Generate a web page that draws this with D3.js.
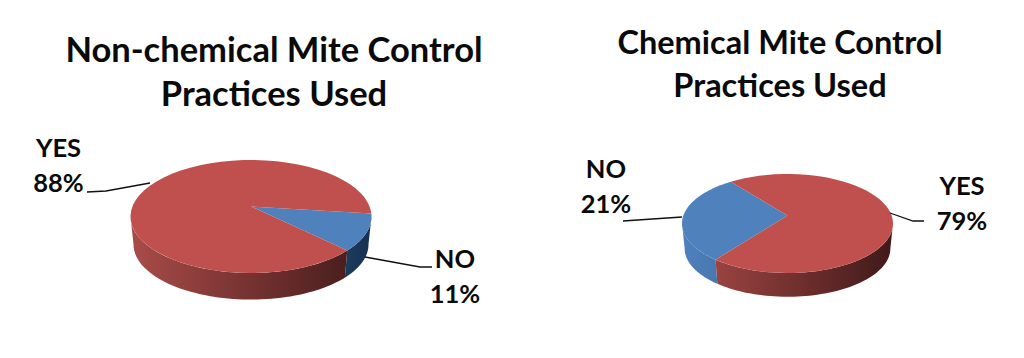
<!DOCTYPE html>
<html>
<head>
<meta charset="utf-8">
<script src="https://cdn.jsdelivr.net/npm/d3@7"></script>
<style>
  html, body { margin: 0; padding: 0; background: #fff; }
  svg { display: block; }
  text { font-family: Lato, "Open Sans", sans-serif; font-weight: 700; fill: #0a0a0a; }
</style>
</head>
<body>
<div id="chart"></div>
<script>
// Data
const categories = ["NO", "YES"];
const nonChemicalValues = [11, 88];
const nonChemicalLabels = ["11%", "88%"];
// the second picture prints 21/79 but its blue slice is drawn bigger than that,
// so the slice sizes are read off the drawing and the labels off the text
const chemicalValues = [29, 71];
const chemicalLabels = ["21%", "79%"];
const nonChemicalTitle = ["Non-chemical Mite Control", "Practices Used"];
const chemicalTitle = ["Chemical Mite Control", "Practices Used"];

const width = 1024, height = 358;
const svg = d3.select("#chart").append("svg")
  .attr("width", width)
  .attr("height", height);
const defs = svg.append("defs");

const topColor = { NO: "#4f81bd", YES: "#c0504d" };
const sideStops = {
  NO: ["#4f81bd", "#3a6597", "#15304f"],
  YES: ["#a94c49", "#753230", "#40191a"]
};

function drawPie(cfg) {
  const g = svg.append("g");

  // x and y map the unit circle onto the tilted ellipse
  const x = d3.scaleLinear().domain([-1, 1]).range([cfg.cx - cfg.rx, cfg.cx + cfg.rx]);
  const y = d3.scaleLinear().domain([-1, 1]).range([cfg.cy - cfg.ry, cfg.cy + cfg.ry]);
  const rimX = a => x(Math.sin(a));
  const rimY = a => y(-Math.cos(a));
  const lowX = a => cfg.cx + (rimX(a) - cfg.cx) * cfg.shrink;
  const lowY = a => cfg.cy + cfg.depth + (rimY(a) - cfg.cy) * cfg.shrink;

  const rows = cfg.values.map((v, i) => ({ name: categories[i], value: v }));
  const slices = d3.pie().sort(null).value(d => d.value)
    .startAngle(cfg.start).endAngle(cfg.start + 2 * Math.PI)(rows);

  const line = d3.line();
  const steps = (a0, a1) => d3.range(0, 61).map(k => a0 + (a1 - a0) * k / 60);

  // side wall, only the part of each slice facing the viewer
  slices.forEach((s, i) => {
    const id = cfg.id + "-side-" + i;
    const grad = defs.append("linearGradient").attr("id", id)
      .attr("gradientUnits", "userSpaceOnUse")
      .attr("x1", cfg.cx - cfg.rx).attr("x2", cfg.cx + cfg.rx)
      .attr("y1", 0).attr("y2", 0);
    sideStops[s.data.name].forEach((c, j) => {
      grad.append("stop").attr("offset", j / 2).attr("stop-color", c);
    });

    // front of the pie runs from 90 to 270 degrees, also checked one turn on
    [0, 2 * Math.PI].forEach(turn => {
      const a0 = Math.max(s.startAngle, Math.PI / 2 + turn);
      const a1 = Math.min(s.endAngle, 3 * Math.PI / 2 + turn);
      if (a1 <= a0) return;
      const upper = steps(a0, a1).map(a => [rimX(a), rimY(a)]);
      const lower = steps(a1, a0).map(a => [lowX(a), lowY(a)]);
      g.append("path")
        .attr("d", line(upper.concat(lower)) + "Z")
        .attr("fill", "url(#" + id + ")");
    });
  });

  // top face, the apex sits a little above the ellipse centre
  slices.forEach(s => {
    const pts = [[cfg.cx, cfg.cy - cfg.apexLift]]
      .concat(steps(s.startAngle, s.endAngle).map(a => [rimX(a), rimY(a)]));
    g.append("path")
      .attr("d", line(pts) + "Z")
      .attr("fill", topColor[s.data.name]);
  });

  // titles
  cfg.title.forEach((t, i) => {
    svg.append("text")
      .attr("x", cfg.titleX)
      .attr("y", cfg.titleY + i * cfg.titleGap)
      .attr("text-anchor", "middle")
      .style("font-size", cfg.titleSize + "px")
      .text(t);
  });

  // leader lines and labels
  cfg.callouts.forEach(c => {
    const i = categories.indexOf(c.name);
    g.append("path")
      .attr("d", line(c.leader))
      .attr("fill", "none")
      .attr("stroke", "#111")
      .attr("stroke-width", 1.3);
    svg.append("text").attr("x", c.x).attr("y", c.y)
      .attr("text-anchor", "middle")
      .style("font-size", "25.5px")
      .text(c.name);
    svg.append("text").attr("x", c.x).attr("y", c.y + 35)
      .attr("text-anchor", "middle")
      .style("font-size", "25.5px")
      .text(cfg.labels[i]);
  });
}

drawPie({
  id: "left",
  values: nonChemicalValues, labels: nonChemicalLabels, title: nonChemicalTitle,
  cx: 251, cy: 216.5, rx: 120.5, ry: 56.5, depth: 28, shrink: 0.975, apexLift: 10,
  start: 87 * Math.PI / 180,
  titleX: 274, titleY: 62, titleGap: 44, titleSize: 34.5,
  callouts: [
    { name: "YES", x: 58.5, y: 157, leader: [[150, 183], [106, 191], [87, 192]] },
    { name: "NO", x: 455, y: 268, leader: [[365, 257], [420, 267], [432, 267]] }
  ]
});

drawPie({
  id: "right",
  values: chemicalValues, labels: chemicalLabels, title: chemicalTitle,
  cx: 787.5, cy: 223.5, rx: 105.5, ry: 49.5, depth: 25, shrink: 0.975, apexLift: 8,
  start: 223 * Math.PI / 180,
  titleX: 780, titleY: 54, titleGap: 43, titleSize: 32.5,
  callouts: [
    { name: "NO", x: 606, y: 178, leader: [[682, 217], [623, 221]] },
    { name: "YES", x: 962, y: 195, leader: [[890, 213], [913, 221], [924, 221]] }
  ]
});
</script>
</body>
</html>
